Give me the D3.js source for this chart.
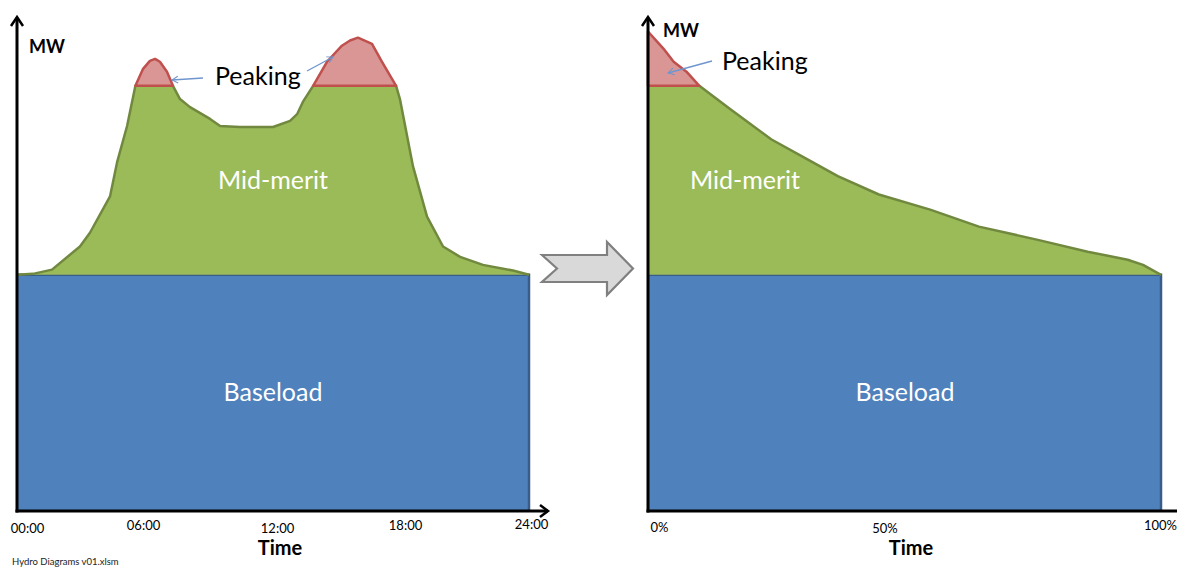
<!DOCTYPE html>
<html>
<head>
<meta charset="utf-8">
<script src="https://cdn.jsdelivr.net/npm/d3@7/dist/d3.min.js"></script>
<style>
  html, body { margin: 0; padding: 0; background: #fff; }
  svg { display: block; font-family: Lato, "Open Sans", sans-serif; }
</style>
</head>
<body>
<svg id="chart" width="1177" height="567"></svg>
<script>
// Daily load profile (hours of day → total demand, MW, arbitrary units)
const dayHours = [0, 0.75, 1.64, 2.95, 3.42, 4.36, 4.69, 5.16, 5.55, 5.91, 6.23, 6.47, 6.70, 7.03, 7.31,
  7.64, 8.11, 9.05, 9.52, 10.45, 12.0, 12.8, 13.13, 13.4, 13.88, 14.53, 15.23, 15.61, 15.98,
  16.64, 17.11, 17.77, 17.95, 18.56, 19.22, 19.97, 20.77, 21.84, 23.25, 24];
const dayLoad = [50, 50.2, 51.1, 56.0, 58.9, 66.6, 73.8, 81.5, 90, 93.6, 95.3, 95.7, 95.1, 93.0, 90,
  87.2, 85.5, 83.0, 81.5, 81.3, 81.3, 82.6, 84.0, 86.6, 90, 95.1, 98.5, 99.6, 100.2,
  98.9, 95.1, 90, 87.2, 73.0, 62.3, 56.0, 53.8, 52.1, 50.9, 50];

// Load duration curve (share of time exceeded → demand, MW)
const durationPct = [0, 3, 5, 7.5, 10, 16, 24, 31, 37, 45, 55, 64.5, 76, 85.7, 93.5, 96.5, 100];
const durationLoad = [101.5, 97.9, 95.1, 93.0, 90, 85.1, 78.7, 74.5, 70.9, 67.0, 63.8, 60.2, 57.4, 54.9, 53.2, 52.1, 50];

// Generation tiers
const baseloadMW = 50;
const midMeritCapMW = 90;

// Axis ticks
const timeTicks = [0, 6, 12, 18, 24];
const timeTickLabels = ["00:00", "06:00", "12:00", "18:00", "24:00"];
const pctTicks = [0, 50, 100];
const pctTickLabels = ["0%", "50%", "100%"];

const colors = {
  base: "#4f81bd", baseStroke: "#385d8a",
  mid: "#9bbb59", midStroke: "#71893f",
  peak: "#d99694", peakStroke: "#c0504d",
  note: "#6f95cf"
};

const svg = d3.select("#chart");
const y = d3.scaleLinear().domain([0, 105]).range([511, 15]);

const defs = svg.append("defs");
defs.append("marker")
  .attr("id", "noteHead").attr("viewBox", "-10 -6 12 12")
  .attr("refX", 0).attr("refY", 0)
  .attr("markerWidth", 9).attr("markerHeight", 9)
  .attr("markerUnits", "userSpaceOnUse").attr("orient", "auto")
  .append("path").attr("d", "M-8,-4.5 L0,0 L-8,4.5")
  .attr("fill", "none").attr("stroke", colors.note).attr("stroke-width", 1.3);

function panel(opts) {
  const { xs, ys, x, tickVals, tickLabels, tickDx, tickDy, axisEnd, timeX } = opts;
  const data = xs.map((v, i) => ({ x: v, v: ys[i] }));
  const g = svg.append("g");
  const [d0, d1] = x.domain();

  // Baseload block
  g.append("rect")
    .attr("x", x(d0)).attr("y", y(baseloadMW))
    .attr("width", x(d1) - x(d0)).attr("height", y(0) - y(baseloadMW))
    .attr("fill", colors.base);
  g.append("path")
    .attr("d", d3.line()([[x(d0), y(baseloadMW)], [x(d1), y(baseloadMW)], [x(d1), y(0)]]))
    .attr("fill", "none").attr("stroke", colors.baseStroke).attr("stroke-width", 2.5);

  // Mid-merit band
  const midTop = d => y(Math.min(d.v, midMeritCapMW));
  g.append("path").datum(data)
    .attr("d", d3.area().x(d => x(d.x)).y0(y(baseloadMW)).y1(midTop))
    .attr("fill", colors.mid);
  g.append("path").datum(data)
    .attr("d", d3.line().x(d => x(d.x)).y(midTop))
    .attr("fill", "none").attr("stroke", colors.midStroke)
    .attr("stroke-width", 2.5).attr("stroke-linejoin", "round");

  // Peaking caps
  g.append("path").datum(data)
    .attr("d", d3.area().defined(d => d.v >= midMeritCapMW)
      .x(d => x(d.x)).y0(y(midMeritCapMW)).y1(d => y(d.v)))
    .attr("fill", colors.peak).attr("stroke", colors.peakStroke)
    .attr("stroke-width", 2.5).attr("stroke-linejoin", "round");

  // Tick labels
  const ax = g.append("g").attr("transform", `translate(0,${y(0) + 12})`)
    .call(d3.axisBottom(x).tickValues(tickVals)
      .tickFormat((d, i) => tickLabels[i]).tickSize(0).tickPadding(0));
  ax.select(".domain").remove();
  ax.selectAll("text")
    .attr("font-family", "Lato, sans-serif").attr("font-size", 13)
    .attr("fill", "#000").attr("dy", (d, i) => (0.71 * 13 + tickDy[i]) + "px")
    .attr("dx", (d, i) => tickDx[i]);

  // Axes with arrowheads
  const ax0 = x(d0);
  g.append("line").attr("x1", ax0).attr("x2", ax0).attr("y1", y(0) + 1.5).attr("y2", 18)
    .attr("stroke", "#000").attr("stroke-width", 3);
  g.append("path").attr("d", `M${ax0 - 6},${26} L${ax0},${17} L${ax0 + 6},${26}`)
    .attr("fill", "none").attr("stroke", "#000").attr("stroke-width", 2.5);
  g.append("line").attr("x1", ax0 - 1.5).attr("x2", axisEnd).attr("y1", y(0)).attr("y2", y(0))
    .attr("stroke", "#000").attr("stroke-width", 3);
  g.append("path").attr("d", `M${axisEnd - 8},${y(0) - 6} L${axisEnd},${y(0)} L${axisEnd - 8},${y(0) + 6}`)
    .attr("fill", "none").attr("stroke", "#000").attr("stroke-width", 2.5);

  // Axis titles
  g.append("text").attr("x", timeX).attr("y", 555).attr("text-anchor", "middle")
    .attr("font-weight", "bold").attr("font-size", 20).text("Time");
  return g;
}

const xDay = d3.scaleLinear().domain([0, 24]).range([17, 529]);
const xDur = d3.scaleLinear().domain([0, 100]).range([648, 1161]);

const left = panel({
  xs: dayHours, ys: dayLoad, x: xDay,
  tickVals: timeTicks, tickLabels: timeTickLabels,
  tickDx: [10, -2, 4, 4, 2], tickDy: [1, -2, 1, -2, -3],
  axisEnd: 548, timeX: 280
});
const right = panel({
  xs: durationPct, ys: durationLoad, x: xDur,
  tickVals: pctTicks, tickLabels: pctTickLabels,
  tickDx: [11, -20, -1], tickDy: [0, 1, -2],
  axisEnd: 1190, timeX: 911
});

// Area labels
function label(g, x, yy, txt, size, fill, anchor, weight) {
  g.append("text").attr("x", x).attr("y", yy).attr("text-anchor", anchor || "middle")
    .attr("font-size", size).attr("fill", fill).attr("font-weight", weight || "normal").text(txt);
}
label(left, 29, 53, "MW", 18, "#000", "start", "bold");
label(right, 663, 37, "MW", 18, "#000", "start", "bold");
label(left, 273, 189, "Mid-merit", 25, "#fff");
label(right, 745, 189, "Mid-merit", 25, "#fff");
label(left, 273, 401, "Baseload", 25, "#fff");
label(right, 905, 401, "Baseload", 25, "#fff");
label(left, 215, 85, "Peaking", 25, "#000", "start");
label(right, 722, 70, "Peaking", 25, "#000", "start");

// Pointers from "Peaking" to the peak areas
const notes = [[203, 78, 172, 80], [307, 71, 333, 57], [712, 61, 668, 73]];
svg.selectAll("line.note").data(notes).join("line").attr("class", "note")
  .attr("x1", d => d[0]).attr("y1", d => d[1]).attr("x2", d => d[2]).attr("y2", d => d[3])
  .attr("stroke", colors.note).attr("stroke-width", 1.3).attr("marker-end", "url(#noteHead)");

// Block arrow between the two views
svg.append("polygon")
  .attr("points", "542,255 607,255 607,242 633,268.5 607,295 607,282 542,282 557,268.5")
  .attr("fill", "#d9d9d9").attr("stroke", "#808080").attr("stroke-width", 2.2)
  .attr("stroke-linejoin", "miter");

// Workbook note
svg.append("text").attr("x", 12).attr("y", 565).attr("font-size", 9.5)
  .attr("font-family", "Lato, sans-serif").attr("fill", "#222").text("Hydro Diagrams  v01.xlsm");
</script>
</body>
</html>
